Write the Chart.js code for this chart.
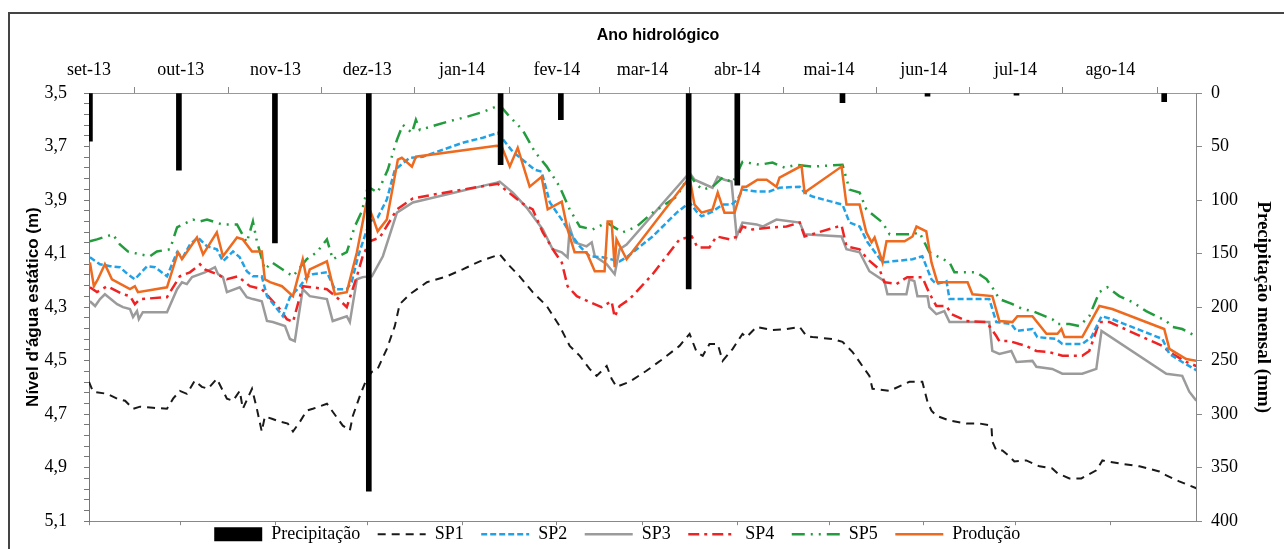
<!DOCTYPE html>
<html>
<head>
<meta charset="utf-8">
<script src="https://cdn.jsdelivr.net/npm/chart.js@4.4.1/dist/chart.umd.min.js"></script>
<style>
  body { margin: 0; background: #fff; overflow: hidden; }
  #frame { position: absolute; left: 8px; top: 12px; width: 1300px; height: 600px; border: 2px solid #444; pointer-events: none; }
  canvas { position: absolute; left: 0; top: 0; }
</style>
</head>
<body>
<canvas id="chart" width="1284" height="549"></canvas>
<div id="frame"></div>
<script>
// Month labels of the hydrological year and the day (from 1 Sep 2013) each month starts
var months = ['set-13', 'out-13', 'nov-13', 'dez-13', 'jan-14', 'fev-14', 'mar-14', 'abr-14', 'mai-14', 'jun-14', 'jul-14', 'ago-14']
var monthStartDays = [0, 30, 61, 91, 122, 153, 181, 212, 242, 273, 303, 334]

// Monthly precipitation (mm), placed at the day it was plotted
var rainDays = [0.3, 29.4, 60.8, 91.5, 134.6, 154.3, 196.1, 212.0, 246.4, 274.2, 303.3, 351.6]
var rainMm = [45, 72, 140, 372, 67, 25, 183, 86, 9, 3, 2, 8]

// Static water level (m) per well: [day, level]
var sp1 = [[0,4.579],[1.3,4.616],[5.9,4.624],[9.2,4.642],[11.8,4.650],[14.4,4.680],[16.7,4.672],[20.9,4.676],[25.5,4.680],[27.5,4.642],[29.7,4.613],[32.0,4.624],[34.6,4.575],[36.9,4.598],[38.9,4.605],[41.8,4.568],[45.1,4.642],[47.1,4.650],[49.3,4.613],[50.3,4.680],[53.3,4.605],[54.9,4.680],[56.5,4.765],[57.5,4.709],[59.8,4.717],[62.4,4.728],[65.0,4.735],[66.7,4.765],[69.0,4.728],[71.2,4.687],[73.2,4.680],[77.8,4.661],[79.7,4.691],[83.0,4.743],[85.3,4.761],[86.3,4.706],[88.6,4.631],[90.8,4.568],[92.5,4.542],[94.4,4.531],[97.4,4.456],[100.0,4.371],[101.6,4.289],[104.9,4.252],[110.5,4.207],[117.0,4.185],[122.2,4.159],[127.8,4.129],[134.3,4.103],[137.6,4.147],[140.8,4.185],[145.1,4.244],[149.7,4.296],[153.9,4.371],[157.2,4.445],[160.5,4.482],[163.7,4.531],[166.0,4.557],[169.3,4.520],[170.9,4.568],[172.5,4.598],[176.8,4.579],[182.3,4.538],[187.6,4.494],[193.1,4.445],[196.4,4.400],[198.7,4.468],[200.7,4.482],[202.9,4.438],[205.6,4.438],[207.2,4.501],[210.5,4.456],[213.7,4.400],[215.0,4.412],[218.3,4.374],[223.5,4.386],[228.1,4.382],[232.4,4.374],[234.6,4.408],[236.6,4.412],[243.1,4.419],[246.4,4.430],[249.7,4.468],[252.9,4.520],[255.2,4.557],[256.2,4.605],[261.8,4.613],[268.3,4.579],[272.5,4.579],[274.2,4.654],[275.5,4.687],[277.1,4.706],[281.4,4.724],[286.9,4.735],[291.2,4.735],[295.1,4.743],[295.4,4.802],[296.7,4.836],[298.7,4.836],[301.0,4.858],[302.6,4.877],[306.5,4.873],[310.8,4.895],[315.0,4.903],[316.7,4.921],[320.6,4.940],[324.5,4.940],[329.4,4.910],[331.4,4.873],[336.9,4.884],[343.5,4.895],[350.0,4.914],[352.3,4.929],[356.5,4.951],[362.1,4.977]]

var sp2 = [[0.3,4.114],[3.6,4.140],[6.9,4.147],[10.1,4.151],[12.7,4.177],[15.0,4.196],[19.0,4.147],[21.6,4.151],[25.5,4.185],[28.8,4.095],[30.7,4.114],[33.0,4.066],[35.6,4.040],[38.6,4.073],[41.8,4.084],[43.8,4.129],[47.1,4.092],[49.3,4.114],[51.6,4.166],[53.6,4.185],[56.5,4.185],[58.2,4.259],[63.4,4.334],[65.7,4.263],[69.0,4.222],[71.2,4.188],[73.2,4.177],[77.8,4.170],[80.4,4.233],[84.3,4.233],[85.9,4.207],[87.9,4.114],[89.5,4.058],[91.8,3.980],[94.4,3.965],[97.4,3.898],[100.0,3.787],[104.9,3.742],[109.2,3.738],[115.7,3.712],[122.2,3.686],[128.8,3.667],[133.7,3.649],[138.6,3.720],[145.8,3.787],[148.0,3.794],[150.7,3.909],[154.6,3.973],[157.2,4.021],[160.5,4.073],[163.7,4.110],[168.0,4.114],[173.5,4.129],[175.8,4.114],[184.3,4.036],[192.2,3.947],[196.4,3.909],[198.7,3.943],[200.3,3.961],[203.9,3.943],[207.2,3.917],[210.1,3.917],[212.1,3.898],[213.7,3.861],[218.3,3.868],[222.5,3.868],[225.8,3.854],[232.4,3.850],[234.0,3.872],[236.6,3.887],[246.4,3.917],[248.7,3.984],[252.0,3.999],[254.6,4.058],[259.5,4.133],[269.3,4.121],[272.5,4.110],[274.2,4.159],[275.5,4.196],[277.1,4.214],[280.4,4.203],[281.4,4.270],[294.4,4.270],[296.7,4.356],[301.6,4.363],[303.3,4.389],[308.5,4.382],[310.1,4.412],[316.3,4.419],[318.3,4.438],[324.8,4.438],[327.8,4.412],[331.1,4.334],[334.6,4.345],[351.0,4.419],[353.3,4.475],[357.5,4.505],[362.4,4.538]]

var sp3 = [[0.3,4.278],[2.0,4.296],[3.6,4.270],[5.2,4.252],[9.2,4.289],[11.1,4.300],[13.4,4.307],[14.4,4.337],[15.7,4.315],[16.3,4.345],[17.6,4.319],[25.5,4.319],[28.8,4.233],[30.4,4.207],[32.0,4.214],[33.7,4.188],[37.9,4.170],[41.2,4.151],[42.2,4.177],[43.8,4.188],[45.1,4.244],[49.3,4.226],[51.6,4.263],[53.6,4.270],[56.5,4.278],[58.2,4.352],[60.1,4.356],[64.1,4.371],[65.7,4.419],[67.3,4.427],[69.9,4.233],[72.2,4.259],[77.8,4.270],[79.7,4.352],[84.3,4.334],[85.3,4.356],[87.6,4.196],[89.5,4.188],[92.5,4.185],[96.1,4.110],[100.7,3.947],[105.9,3.909],[133.3,3.835],[134.3,3.831],[138.6,3.872],[143.1,3.928],[148.4,4.010],[151.6,4.084],[154.6,4.095],[156.5,4.114],[157.2,4.002],[158.8,4.058],[162.7,4.073],[164.4,4.058],[165.4,4.110],[169.3,4.140],[171.9,4.177],[173.5,4.084],[175.8,4.066],[196.4,3.798],[198.0,3.824],[203.9,3.854],[205.6,3.813],[207.8,3.824],[210.1,3.831],[211.8,4.036],[213.7,3.984],[218.3,3.991],[220.3,3.999],[224.8,3.973],[232.4,3.984],[234.0,4.028],[246.1,4.036],[247.7,4.084],[252.0,4.095],[255.2,4.166],[260.1,4.203],[261.1,4.252],[267.3,4.252],[268.3,4.196],[269.9,4.203],[270.9,4.259],[274.2,4.259],[274.8,4.300],[277.1,4.326],[279.7,4.315],[281.4,4.356],[294.4,4.356],[295.4,4.464],[297.7,4.475],[301.6,4.464],[303.3,4.505],[308.5,4.501],[309.8,4.523],[315.0,4.531],[318.3,4.549],[324.8,4.549],[329.4,4.531],[331.1,4.389],[352.3,4.549],[357.5,4.557],[359.8,4.616],[362.1,4.650]]

var sp4 = [[0.3,4.226],[2.6,4.244],[5.9,4.222],[11.1,4.252],[13.4,4.259],[15.0,4.289],[16.7,4.270],[25.5,4.263],[29.7,4.185],[33.0,4.170],[36.3,4.140],[37.9,4.159],[41.8,4.177],[45.1,4.196],[48.7,4.185],[52.6,4.222],[56.5,4.233],[62.4,4.307],[64.7,4.345],[66.7,4.356],[69.9,4.222],[77.8,4.233],[81.0,4.263],[84.3,4.300],[87.6,4.185],[89.5,4.110],[91.8,4.054],[95.1,4.040],[100.7,3.935],[105.9,3.894],[112.4,3.880],[127.8,3.850],[133.7,3.839],[141.8,3.913],[145.1,3.935],[148.4,4.021],[152.3,4.095],[154.6,4.133],[156.5,4.222],[159.5,4.259],[163.7,4.281],[167.6,4.300],[170.9,4.278],[171.9,4.337],[173.5,4.296],[176.8,4.270],[184.3,4.177],[193.1,4.047],[197.1,4.036],[199.0,4.077],[202.9,4.077],[205.2,4.036],[209.5,4.047],[212.1,4.036],[213.7,3.999],[217.0,4.010],[223.5,4.002],[228.1,3.999],[232.4,3.984],[234.0,4.036],[246.1,3.995],[247.7,4.073],[252.0,4.084],[254.6,4.121],[258.5,4.159],[260.1,4.207],[264.0,4.214],[267.6,4.188],[272.5,4.188],[274.2,4.233],[275.5,4.263],[277.1,4.296],[280.4,4.296],[282.0,4.326],[286.9,4.352],[293.5,4.356],[296.7,4.408],[297.7,4.427],[301.0,4.427],[304.2,4.438],[306.5,4.445],[309.8,4.464],[314.0,4.468],[318.3,4.482],[324.8,4.482],[327.1,4.464],[330.4,4.356],[333.7,4.356],[351.0,4.445],[353.3,4.468],[358.8,4.505],[362.1,4.520]]

var sp5 = [[0.3,4.054],[2.6,4.047],[7.8,4.028],[10.1,4.066],[12.7,4.092],[16.7,4.103],[19.9,4.110],[22.2,4.092],[26.5,4.084],[28.8,4.002],[34.0,3.973],[36.3,3.980],[38.6,3.973],[43.5,3.991],[48.4,3.991],[51.6,4.058],[53.6,3.980],[54.9,4.054],[57.5,4.159],[59.8,4.133],[66.7,4.185],[71.2,4.121],[74.5,4.095],[77.8,4.047],[79.7,4.121],[84.3,4.095],[86.9,3.999],[89.2,3.943],[91.2,3.850],[94.4,3.872],[97.7,3.787],[100.7,3.675],[102.6,3.619],[105.6,3.649],[106.9,3.600],[108.2,3.638],[117.0,3.608],[123.5,3.589],[128.8,3.571],[134.3,3.545],[137.6,3.589],[141.8,3.638],[145.8,3.720],[149.7,3.775],[153.9,3.850],[157.2,3.935],[160.5,3.999],[164.7,4.010],[169.3,3.984],[174.5,4.021],[179.1,3.999],[184.3,3.947],[192.2,3.887],[196.4,3.805],[198.7,3.842],[200.7,3.861],[203.9,3.850],[207.2,3.816],[210.5,3.835],[213.7,3.757],[219.3,3.768],[223.5,3.760],[227.5,3.779],[231.4,3.768],[236.6,3.775],[246.4,3.768],[248.7,3.861],[252.0,3.872],[254.2,3.935],[259.5,3.984],[261.8,4.028],[269.3,4.028],[271.6,4.021],[274.8,4.095],[278.1,4.114],[281.4,4.133],[283.0,4.170],[290.2,4.170],[293.5,4.196],[295.4,4.226],[297.7,4.270],[302.0,4.289],[305.2,4.307],[308.5,4.315],[315.0,4.345],[316.7,4.363],[320.6,4.363],[323.8,4.371],[327.1,4.334],[330.4,4.244],[333.0,4.226],[336.9,4.259],[341.2,4.281],[345.7,4.315],[352.3,4.352],[354.2,4.374],[357.5,4.382],[360.5,4.400],[362.1,4.412]]

var producao = [[0.3,4.133],[1.6,4.222],[2.9,4.196],[5.2,4.140],[7.5,4.196],[13.4,4.233],[15.0,4.222],[16.0,4.244],[25.5,4.226],[29.1,4.095],[30.4,4.121],[35.3,4.040],[37.3,4.103],[41.8,4.021],[43.8,4.110],[48.4,4.040],[50.3,4.047],[53.3,4.092],[56.5,4.092],[57.5,4.196],[59.2,4.207],[63.1,4.222],[66.7,4.259],[69.9,4.121],[71.2,4.196],[72.2,4.159],[77.8,4.129],[80.4,4.252],[84.3,4.244],[87.6,4.095],[90.8,3.906],[92.8,3.965],[94.4,4.017],[97.4,3.973],[101.0,3.749],[102.3,3.742],[105.6,3.775],[106.9,3.738],[133.3,3.697],[135.0,3.701],[137.6,3.775],[140.2,3.705],[144.1,3.850],[148.0,3.813],[150.0,3.935],[154.6,3.906],[156.5,4.010],[158.8,4.095],[162.7,4.095],[165.4,4.166],[168.6,4.166],[169.6,3.980],[170.9,3.980],[171.9,4.151],[172.5,4.047],[175.8,4.121],[196.4,3.816],[198.0,3.917],[200.3,3.947],[203.9,3.935],[205.6,3.872],[207.8,3.947],[211.1,3.947],[213.7,3.850],[215.0,3.850],[218.6,3.824],[221.6,3.824],[224.8,3.850],[225.8,3.816],[233.0,3.772],[234.0,3.872],[246.1,3.775],[247.7,3.917],[252.0,3.917],[254.2,4.021],[255.9,4.058],[256.9,4.040],[259.5,4.133],[260.8,4.054],[266.7,4.054],[269.3,4.036],[270.6,3.999],[273.8,4.017],[275.5,4.133],[277.4,4.207],[287.3,4.207],[288.9,4.252],[295.4,4.259],[297.7,4.352],[302.0,4.356],[303.6,4.334],[308.5,4.334],[313.1,4.400],[316.7,4.400],[318.0,4.382],[319.0,4.412],[324.8,4.412],[330.4,4.296],[334.6,4.307],[351.6,4.382],[353.3,4.456],[358.8,4.494],[362.1,4.501]]

var levelTicks = []
for (var i = 0; i <= 40; i++) levelTicks.push(+(3.5 + i * 0.04).toFixed(2))

var serif = 'Liberation Serif'
var sans = 'Liberation Sans'

function pts(pairs) {
    return pairs.map(p => ({ x: p[0], y: p[1] }))
}

function lineSet(label, pairs, color, width, dash, order) {
    return {
        type: 'line', label: label, data: pts(pairs), yAxisID: 'y', xAxisID: 'x',
        borderColor: color, backgroundColor: color, borderWidth: width, borderDash: dash,
        pointRadius: 0, tension: 0, fill: false, order: order
    }
}

var datasets = [
    {
        type: 'bar', label: 'Precipitação', yAxisID: 'y2', xAxisID: 'x',
        data: rainDays.map((d, i) => ({ x: d, y: rainMm[i] })),
        backgroundColor: '#000', borderWidth: 0, barThickness: 5, order: 0
    },
    lineSet('SP1', sp1, '#1a1a1a', 2, [8, 6], 6),
    lineSet('SP2', sp2, '#22a2e6', 2.5, [6, 3], 3),
    lineSet('SP3', sp3, '#9b9b9b', 2.5, [], 5),
    lineSet('SP4', sp4, '#ee2424', 2.5, [11, 5, 3, 5], 4),
    lineSet('SP5', sp5, '#229c3c', 2.5, [13, 6, 2, 6, 2, 6], 2),
    lineSet('Produção', producao, '#ee6a1e', 2.5, [], 1)
]

var chart = new Chart(document.getElementById('chart'), {
    type: 'line',
    data: { datasets: datasets },
    options: {
        responsive: false,
        animation: false,
        events: [],
        layout: { padding: 0 },
        plugins: {
            tooltip: { enabled: false },
            legend: {
                position: 'bottom',
                maxHeight: 26,
                labels: {
                    usePointStyle: true,
                    pointStyleWidth: 48,
                    boxHeight: 14,
                    padding: 4,
                    color: '#000',
                    font: { family: serif, size: 18 },
                    generateLabels: (c) => c.data.datasets.map((ds, i) => ({
                        text: ds.label + (i < c.data.datasets.length - 1 ? '   ' : '           '),
                        fillStyle: ds.type === 'bar' ? '#000' : 'rgba(0,0,0,0)',
                        strokeStyle: ds.type === 'bar' ? '#000' : ds.borderColor,
                        lineWidth: ds.type === 'bar' ? 0 : ds.borderWidth,
                        lineDash: ds.borderDash || [],
                        pointStyle: ds.type === 'bar' ? 'rect' : 'line',
                        fontColor: '#000',
                        hidden: false,
                        datasetIndex: i
                    }))
                }
            }
        },
        scales: {
            x: {
                type: 'linear', position: 'top', min: 0, max: 362, offset: false,
                afterBuildTicks: (s) => { s.ticks = monthStartDays.map(v => ({ value: v })) },
                afterFit: (s) => { s.height = 93 },
                ticks: {
                    autoSkip: false, maxRotation: 0, padding: 6, color: '#000',
                    font: { family: serif, size: 18 },
                    callback: (v, i) => months[i]
                },
                grid: { drawOnChartArea: false, tickLength: 6, color: '#888' },
                border: { color: '#999', width: 1 },
                title: {
                    display: true, text: '       Ano hidrológico', color: '#000',
                    font: { family: sans, size: 16, weight: 'bold' },
                    padding: { top: 26, bottom: 0 }
                }
            },
            xb: {
                type: 'linear', position: 'bottom', min: 0, max: 362, offset: false,
                afterBuildTicks: (s) => { s.ticks = monthStartDays.map(v => ({ value: v })) },
                afterFit: (s) => { s.height = 0 },
                ticks: { display: false },
                grid: { drawOnChartArea: false, tickLength: 4, color: '#888' },
                border: { color: '#888', width: 1 }
            },
            y: {
                type: 'linear', position: 'left', min: 3.5, max: 5.1, reverse: true,
                afterBuildTicks: (s) => { s.ticks = levelTicks.map(v => ({ value: v })) },
                afterFit: (s) => { s.width = 89 },
                ticks: {
                    autoSkip: false, padding: 17, color: '#000',
                    font: { family: serif, size: 18 },
                    callback: (v, i) => i % 5 === 0 ? v.toFixed(1).replace('.', ',') : ''
                },
                grid: { drawOnChartArea: false, tickLength: 5, color: '#777' },
                border: { color: '#777', width: 1 },
                title: {
                    display: true, text: "Nível d'água estático (m)", color: '#000',
                    font: { family: sans, size: 17, weight: 'bold' },
                    padding: { top: 23, bottom: 0 }
                }
            },
            y2: {
                type: 'linear', position: 'right', min: 0, max: 400, reverse: true,
                afterFit: (s) => { s.width = 88 },
                ticks: {
                    stepSize: 50, padding: 9, color: '#000',
                    font: { family: serif, size: 18 }
                },
                grid: { drawOnChartArea: false, tickLength: 6, color: '#888' },
                border: { color: '#888', width: 1 },
                title: {
                    display: true, text: 'Precipitação mensal (mm)', color: '#000',
                    font: { family: serif, size: 19, weight: 'bold' },
                    padding: { top: 10, bottom: 0 }
                }
            }
        }
    }
})
</script>
</body>
</html>
